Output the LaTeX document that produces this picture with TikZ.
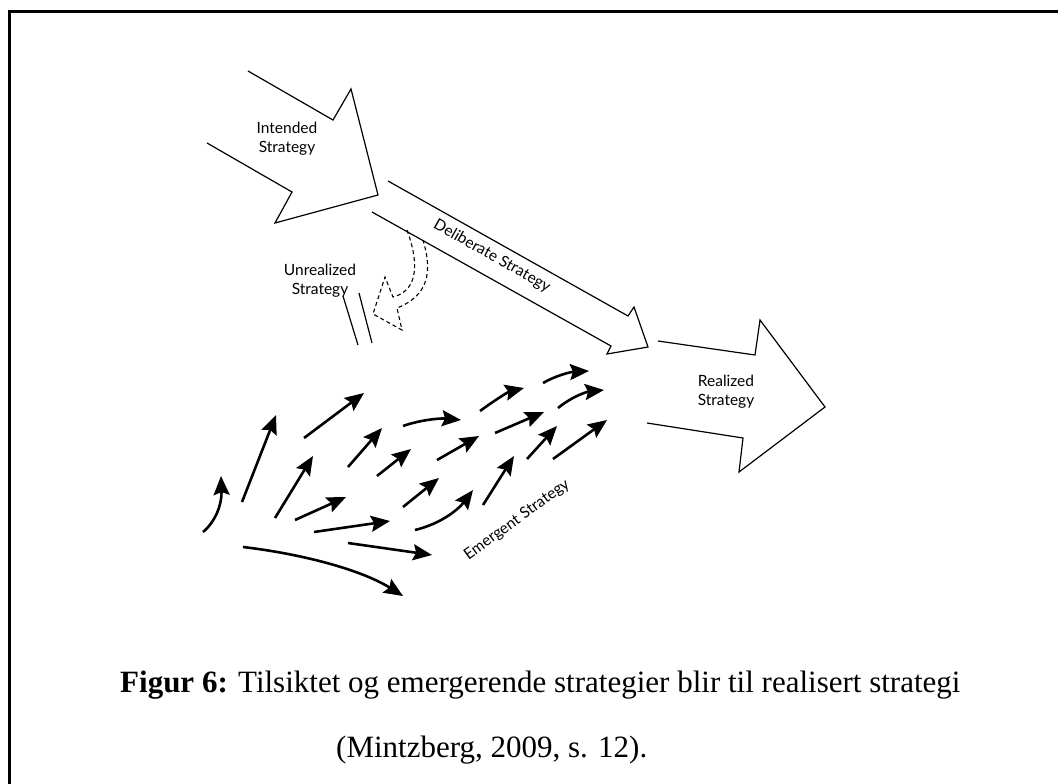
\documentclass[tikz,border=0pt]{standalone}
\usepackage{fontspec}
\setmainfont{Liberation Serif}
\newfontfamily\gill{Lato}
\usetikzlibrary{arrows.meta}
\begin{document}
\begin{tikzpicture}[x=1pt,y=-1pt,
  outl/.style={line width=1.2pt, line join=miter},
  dasharr/.style={line width=1.1pt, dash pattern=on 4pt off 3pt},
  emer/.style={line width=2.6pt, -{Stealth[length=19pt,width=16pt,inset=3pt]}},
  lbl/.style={font=\gill\fontsize{15.5}{19}\selectfont, align=center, inner sep=0pt},
  captxt/.style={font=\fontsize{31}{36}\selectfont, inner sep=0pt, anchor=base west}]
\useasboundingbox (0,0) rectangle (1058,784);
\draw[line width=3pt] (9,790) -- (9,11.7) -- (1065,11.7);

% Intended strategy arrow
\draw[outl] (248,71) -- (333,120) -- (351,89) -- (378,195) -- (275,223) -- (292,192) -- (207,143);
\node[lbl] (intended) at (287,139) {Intended\\Strategy};

% Deliberate strategy arrow
\draw[outl] (388,181) -- (628,316) -- (634,307) -- (648,347) -- (607,354) -- (611,346) -- (372,212);
\node[lbl, rotate=-29.4] (deliberate) at (492,256) {Deliberate Strategy};

% Unrealized (dashed curved arrow)
\draw[dasharr] (407,230) .. controls (418,260) and (420,290) .. (393,297) -- (385,277) -- (373,314) -- (402,330) -- (397,308) .. controls (430,295) and (432,270) .. (423,240);
\node[lbl] (unrealized) at (320,281) {Unrealized\\Strategy};
\draw[line width=1.2pt] (343,296) -- (358,345);
\draw[line width=1.2pt] (359,293) -- (372,343);

% Realized strategy arrow
\draw[outl] (658,341) -- (755,355) -- (760,320) -- (825,407) -- (739,472) -- (743,438) -- (647,423);
\node[lbl] (realized) at (726,392) {Realized\\Strategy};

% Emergent arrows
\draw[emer] (203,532) .. controls (215,522) and (222,505) .. (221,476);
\draw[emer] (242,502) -- (276,415);
\draw[emer] (304,438) -- (364,393);
\draw[emer] (275,518) -- (313,456);
\draw[emer] (348,467) -- (382,428);
\draw[emer] (377,476) -- (411,449);
\draw[emer] (295,520) -- (346,497);
\draw[emer] (314,532) -- (390,521);
\draw[emer] (348,543) -- (432,555);
\draw[emer] (243,547) .. controls (310,555) and (365,572) .. (403,596);
\draw[emer] (403,507) -- (439,478);
\draw[emer] (403,426) .. controls (420,420) and (440,418) .. (461,420);
\draw[emer] (437,460) -- (479,436);
\draw[emer] (415,530) .. controls (440,524) and (458,510) .. (473,490);
\draw[emer] (483,505) -- (514,456);
\draw[emer] (480,411) .. controls (495,400) and (508,392) .. (524,388);
\draw[emer] (495,433) -- (544,412);
\draw[emer] (527,459) -- (557,426);
\draw[emer] (553,459) -- (607,420);
\draw[emer] (543,383) .. controls (555,376) and (570,372) .. (589,371);
\draw[emer] (558,408) .. controls (570,398) and (585,392) .. (604,390);
\node[lbl, rotate=36] (emergent) at (517,520) {Emergent Strategy};

% Caption
\node[captxt] (cap1) at (120,692) {\textbf{Figur 6:} Tilsiktet og emergerende strategier blir til realisert strategi};
\node[captxt] (cap2) at (336,757) {(Mintzberg, 2009, s. 12).};
\end{tikzpicture}
\end{document}
